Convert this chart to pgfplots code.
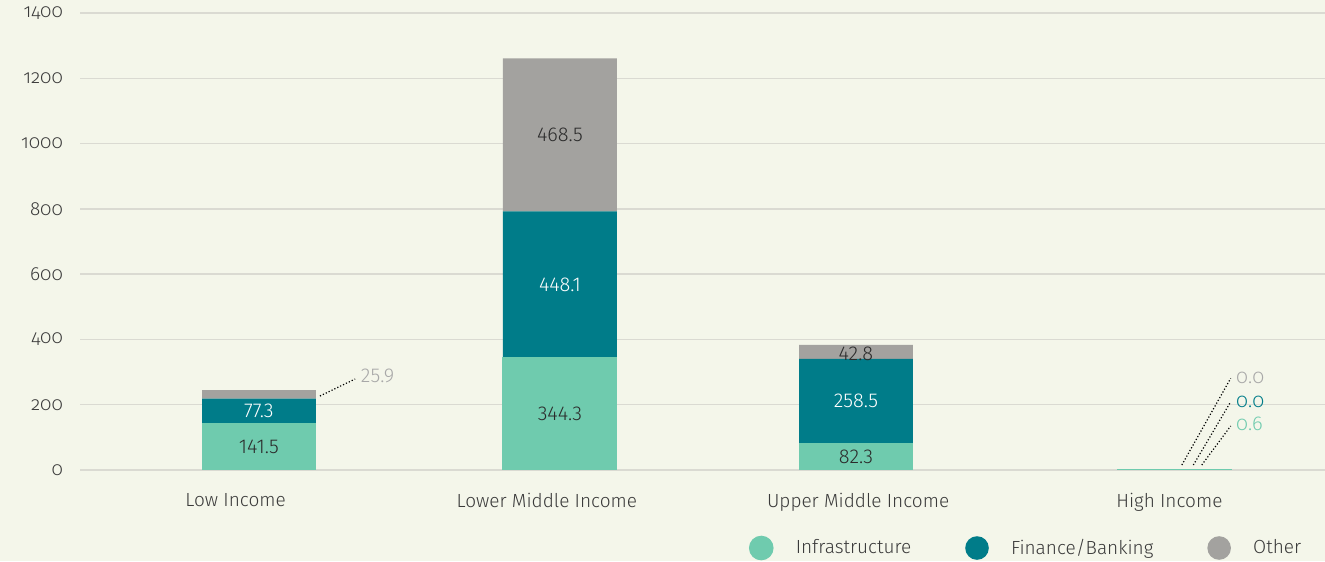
\documentclass[border=0pt]{standalone}
\usepackage{pgfplots}
\pgfplotsset{compat=1.18}
\usepackage{fontspec}
\setmainfont{Fira Sans Light}
\newfontfamily\oldnum{Fira Sans Light}[Numbers=OldStyle]
\definecolor{bg}{HTML}{F4F6EA}
\definecolor{infra}{HTML}{6FCBAE}
\definecolor{fin}{HTML}{007C89}
\definecolor{oth}{HTML}{A3A29F}
\definecolor{gridc}{HTML}{DADAD2}
\definecolor{txt}{HTML}{3A3A3A}
\definecolor{lbl}{HTML}{2B2B2B}
\definecolor{lgray}{HTML}{A8A8A8}
\pgfplotsset{circleg/.style={legend image code/.code={\fill[#1] (0pt,0pt) circle (5.9pt); \path (15pt,0pt);}}}
\tikzset{lab/.style={font=\fontsize{10}{12}\selectfont},
  olab/.style={anchor=west, inner sep=1pt, font=\oldnum\fontsize{10}{12}\selectfont}}
\begin{document}
\begin{tikzpicture}
\fill[bg] (0,0) rectangle (662.5pt,280.5pt);
\useasboundingbox (0,0) rectangle (662.5pt,280.5pt);
\begin{axis}[
  at={(40pt,45.5pt)}, anchor=south west,
  scale only axis, width=622.5pt, height=228.5pt,
  xmin=-0.5, xmax=3.5, ymin=0, ymax=1400,
  ybar stacked, bar width=0.366,
  axis line style={draw=none}, tick style={draw=none},
  ymajorgrids, grid style={gridc, line width=0.7pt},
  ytick={0,200,400,600,800,1000,1200,1400},
  xtick={0,1,2,3},
  xticklabels={Low Income, Lower Middle Income, Upper Middle Income, High Income},
  /pgf/number format/assume math mode=true,
  /pgf/number format/1000 sep={},
  yticklabel style={font=\oldnum\fontsize{9.5}{11}\selectfont, text=txt, xshift=-5pt},
  xticklabel style={font=\fontsize{9.5}{11}\selectfont, text=txt, yshift=-8pt},
  legend columns=3,
  legend style={at={(0.537,-0.1707)}, anchor=west, draw=none, fill=none, inner sep=0pt,
    font=\fontsize{9.5}{11}\selectfont, text=txt,
    /tikz/every even column/.append style={column sep=25pt}},
  clip=false,
]
\addplot[fill=infra, draw=infra, line width=0.5pt, circleg=infra]
  coordinates {(0.075,141.5) (1.042,344.3) (1.993,82.3) (3.015,0.6)};
\addlegendentry{Infrastructure}
\addplot[fill=fin, draw=none, circleg=fin]
  coordinates {(0.075,77.3) (1.042,448.1) (1.993,258.5) (3.015,0.0)};
\addlegendentry{Finance/Banking}
\addplot[fill=oth, draw=none, circleg=oth]
  coordinates {(0.075,25.9) (1.042,468.5) (1.993,42.8) (3.015,0.0)};
\addlegendentry{Other}

\coordinate (a1) at (axis cs:0.075,70.75);
\coordinate (a2) at (axis cs:0.075,180.15);
\coordinate (b1) at (axis cs:1.042,172.15);
\coordinate (b2) at (axis cs:1.042,568.4);
\coordinate (b3) at (axis cs:1.042,1026.65);
\coordinate (c1) at (axis cs:1.993,41.15);
\coordinate (c2) at (axis cs:1.993,211.55);
\coordinate (c3) at (axis cs:1.993,356);
\draw[densely dotted, line width=0.6pt] (axis cs:0.271,226.7) -- (axis cs:0.384,278.8);
\node[lab, text=lgray, anchor=west, inner sep=1pt] at (axis cs:0.395,288) {25.9};
\draw[densely dotted, line width=0.6pt] (axis cs:3.040,15.3) -- (axis cs:3.197,281);
\draw[densely dotted, line width=0.6pt] (axis cs:3.077,15.3) -- (axis cs:3.197,209);
\draw[densely dotted, line width=0.6pt] (axis cs:3.104,15.3) -- (axis cs:3.197,134.8);
\node[olab, text=lgray] at (axis cs:3.207,282.8) {0.0};
\node[olab, text=fin] at (axis cs:3.207,209) {0.0};
\node[olab, text=infra] at (axis cs:3.207,141) {0.6};
\end{axis}
\node[lab, text=lbl] at (a1) {141.5};
\node[lab, text=white] at (a2) {77.3};
\node[lab, text=lbl] at (b1) {344.3};
\node[lab, text=white] at (b2) {448.1};
\node[lab, text=lbl] at (b3) {468.5};
\node[lab, text=lbl] at (c1) {82.3};
\node[lab, text=white] at (c2) {258.5};
\node[lab, text=lbl] at (c3) {42.8};
\end{tikzpicture}
\end{document}
